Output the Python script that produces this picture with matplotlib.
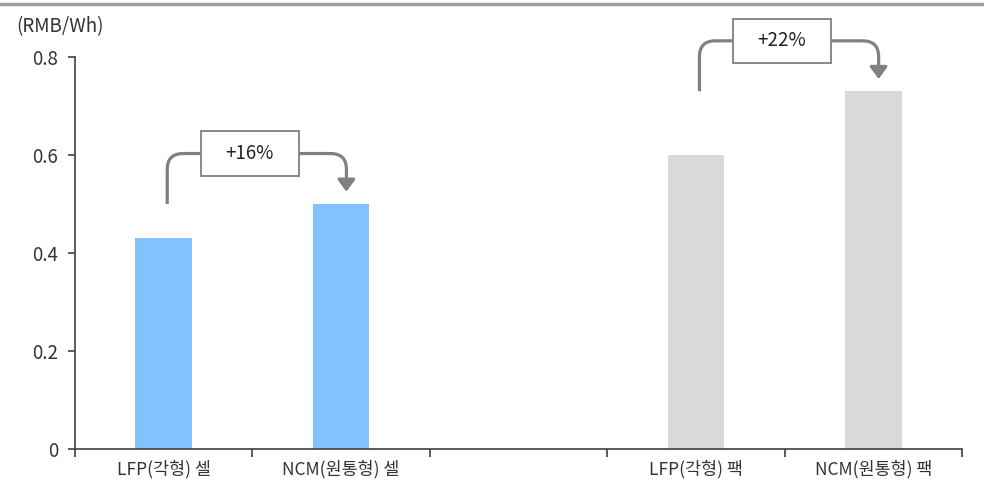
import matplotlib
matplotlib.use("Agg")
import matplotlib.pyplot as plt
from matplotlib.path import Path
from matplotlib.patches import PathPatch, FancyArrowPatch, Rectangle
from matplotlib.lines import Line2D

plt.rcParams['font.family'] = ['Noto Sans CJK KR', 'DejaVu Sans']
plt.rcParams['font.weight'] = 'light'

categories = ['LFP(각형) 셀', 'NCM(원통형) 셀', '', 'LFP(각형) 팩', 'NCM(원통형) 팩']
values = [0.43, 0.50, None, 0.60, 0.73]
colors = ['#82C3FF', '#82C3FF', None, '#D9D9D9', '#D9D9D9']
yticks = [0, 0.2, 0.4, 0.6, 0.8]
ytick_labels = ['0', '0.2', '0.4', '0.6', '0.8']
unit_label = '(RMB/Wh)'
changes = ['+16%', '+22%']
pairs = [(0, 1), (3, 4)]

txt = '#333333'
fig = plt.figure(figsize=(9.84, 4.95), dpi=100)
ax = fig.add_axes([75/984, 1-449/495, (962-75)/984, (449-57)/495])

xs = [i for i, v in enumerate(values) if v is not None]
vals = [values[i] for i in xs]
cols = [colors[i] for i in xs]
ax.bar(xs, vals, width=0.32, color=cols, zorder=2)

ax.set_xlim(-0.5, len(categories) - 0.5)
ax.set_ylim(0, 0.8)
ax.set_yticks(yticks)
ax.set_yticklabels(ytick_labels)
ax.set_xticks([i - 0.5 for i in range(len(categories) + 1)], minor=False)
ax.set_xticklabels([])
ax.set_xticks(range(len(categories)), minor=True)
ax.set_xticklabels(categories, minor=True)
ax.tick_params(axis='x', which='minor', length=0, pad=8, labelsize=12.5, labelcolor=txt)
ax.tick_params(axis='x', which='major', length=6, direction='out', color='#404040', width=1.2)
ax.tick_params(axis='y', length=5, direction='out', color='#404040', width=1.2,
               labelsize=13.5, labelcolor=txt, pad=7)
for s in ['top', 'right']:
    ax.spines[s].set_visible(False)
for s in ['left', 'bottom']:
    ax.spines[s].set_color('#404040')
    ax.spines[s].set_linewidth(1.2)

fig.text(16/984, 1-27/495, unit_label, fontsize=13.5, color=txt, va='center', ha='left')

# top rule
fig.add_artist(Line2D([0, 1], [1-4/495, 1-4/495], color='#A0A0A0', lw=2.5, transform=fig.transFigure))

gray = '#808080'
rx, ry = 0.09, 0.032
for (i0, i1), lab in zip(pairs, changes):
    v0, v1 = values[i0], values[i1]
    x0 = i0 + 0.02
    x1 = i1 + 0.03
    ylev = max(v0, v1) + 0.103
    ybot = v0 + 0.07 if i0 == 0 else v0 + 0.13
    ytip = v1 + 0.025
    bx0, bx1 = i0 + 0.21, i0 + 0.76
    bh = 0.045
    lp = Path([(x0, ybot), (x0, ylev - ry), (x0, ylev), (x0 + rx, ylev), (bx0, ylev)],
              [Path.MOVETO, Path.LINETO, Path.CURVE3, Path.CURVE3, Path.LINETO])
    ax.add_patch(PathPatch(lp, fill=False, ec=gray, lw=2.3, capstyle='butt', clip_on=False, zorder=3))
    rp = Path([(bx1, ylev), (x1 - rx, ylev), (x1, ylev), (x1, ylev - ry), (x1, ytip)],
              [Path.MOVETO, Path.LINETO, Path.CURVE3, Path.CURVE3, Path.LINETO])
    ax.add_patch(FancyArrowPatch(path=rp, arrowstyle='-|>,head_length=0.55,head_width=0.4',
                                 mutation_scale=13, color=gray, lw=2.3, clip_on=False, zorder=3))
    ax.add_patch(Rectangle((bx0, ylev - bh), bx1 - bx0, 2 * bh, fc='white', ec=gray, lw=1.3,
                           clip_on=False, zorder=4))
    ax.text((bx0 + bx1) / 2, ylev, lab, ha='center', va='center', fontsize=13.5,
            color='#222222', zorder=5, clip_on=False)

fig.savefig('out.png', dpi=100)
